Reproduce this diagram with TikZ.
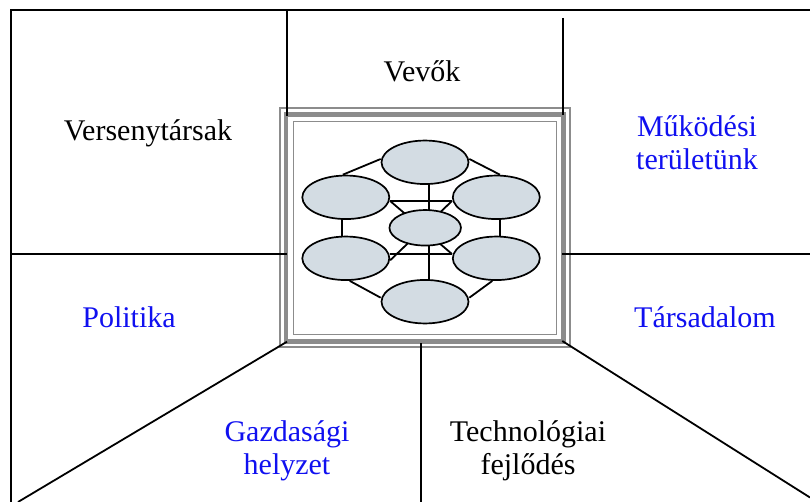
\documentclass[tikz,border=0pt]{standalone}
\usepackage{fontspec}
\setmainfont{Liberation Serif}
\usetikzlibrary{shapes.geometric}
\pgfdeclarelayer{links}
\pgfsetlayers{links,main}
\definecolor{framegray}{RGB}{140,140,140}
\definecolor{bubble}{RGB}{211,220,227}
\definecolor{labelblue}{RGB}{16,16,240}

\begin{document}
\begin{tikzpicture}[x=1pt,y=-1pt,
  rule/.style={line width=1.8pt, black},
  link/.style={line width=1.8pt, black},
  bub/.style={ellipse, draw=black, line width=1.7pt, fill=bubble,
    inner sep=0pt, minimum width=87pt, minimum height=43.5pt},
  hubbub/.style={bub, minimum width=71.5pt, minimum height=35.5pt},
  hubframe/.style={draw=framegray, line width=4.5pt, inner sep=0pt, outer sep=0pt,
    minimum width=277.5pt, minimum height=227pt},
  lbl/.style={font=\fontsize{30}{33}\selectfont, align=center, inner sep=0pt, anchor=base},
  blk/.style={lbl, text=black},
  blu/.style={lbl, text=labelblue}]

\useasboundingbox (0,0) rectangle (810,502);

% central frame: thick band plus thin outer and inner rules
\node[hubframe] (hub) at (424.75,228) {};
\draw[framegray, line width=2pt]
  ([shift={(-6,-6.5)}]hub.north west) rectangle ([shift={(6.5,5.5)}]hub.south east);
\draw[framegray, line width=1.6pt]
  ([shift={(7.5,7)}]hub.north west) rectangle ([shift={(-7,-7)}]hub.south east);

% region boundaries
\coordinate (ctl) at (11,10);
\coordinate (ctr) at (810,10);
\coordinate (cbl) at (11,502);
\coordinate (v1a) at (287,10);
\coordinate (v1b) at (287,116);
\coordinate (v2a) at (563,18);
\coordinate (v2b) at (563,115);
\coordinate (h1a) at (11,254);
\coordinate (h1b) at (287,254);
\coordinate (h2a) at (562,254);
\coordinate (h2b) at (810,254);
\coordinate (d1a) at (287,341.7);
\coordinate (d1b) at (18,502);
\coordinate (v3a) at (421,343);
\coordinate (v3b) at (421,502);
\coordinate (d2a) at (562.3,341);
\coordinate (d2b) at (810,497.5);

\draw[rule] (cbl) -- (ctl) -- (ctr);
\draw[rule] (v1a) -- (v1b);
\draw[rule] (v2a) -- (v2b);
\draw[rule] (h1a) -- (h1b);
\draw[rule] (h2a) -- (h2b);
\draw[rule] (d1a) -- (d1b);
\draw[rule] (v3a) -- (v3b);
\draw[rule] (d2a) -- (d2b);

% network of bubbles inside the frame
\node[bub] (top) at (425,162.3) {};
\node[bub] (ul) at (345.8,197.3) {};
\node[bub] (ur) at (496.3,197.3) {};
\node[hubbub] (mid) at (425.2,227.8) {};
\node[bub] (ll) at (345.8,258.3) {};
\node[bub] (lr) at (496.3,258.3) {};
\node[bub] (bot) at (425,301.7) {};

\begin{pgfonlayer}{links}
  \coordinate (p1) at ([yshift=-3.7pt]ul.east);
  \coordinate (p2) at ([yshift=-3.7pt]ur.west);
  \coordinate (p3) at ([yshift=4.3pt]ll.east);
  \coordinate (p4) at ([yshift=4.3pt]lr.west);
  \coordinate (p5) at ([yshift=-2pt]ll.east);
  \draw[link] ([yshift=3.3pt]top.west) -- ([xshift=-3pt]ul.north);
  \draw[link] ([yshift=3.3pt]top.east) -- ([xshift=3.7pt]ur.north);
  \draw[link] ([xshift=4pt]top.south) -- ([xshift=4pt]bot.north);
  \draw[link] (p1) -- (p2);
  \draw[link] (p3) -- (p4);
  \draw[link] (p1) -- (p4);
  \draw[link] (p5) -- (p2);
  \draw[link] ([xshift=-3.5pt]ul.south) -- ([xshift=-3.5pt]ll.north);
  \draw[link] ([xshift=3.7pt]ur.south) -- ([xshift=3.7pt]lr.north);
  \draw[link] ([xshift=4pt]ll.south) -- ([yshift=4pt]bot.west);
  \draw[link] ([xshift=-4pt]lr.south) -- ([yshift=4pt]bot.east);
\end{pgfonlayer}

% region labels (two-line labels sit on the baseline of their last line)
\node[blk] (vevok) at (422,82) {Vevők};
\node[blk] (verseny) at (148,141) {Versenytársak};
\node[blu] (mukodes) at (697,170) {Működési\\területünk};
\node[blu] (politika) at (129,327) {Politika};
\node[blu] (tarsad) at (705,327) {Társadalom};
\node[blu] (gazdasag) at (287,474) {Gazdasági\\helyzet};
\node[blk] (techno) at (528,474) {Technológiai\\fejlődés};
\end{tikzpicture}
\end{document}
